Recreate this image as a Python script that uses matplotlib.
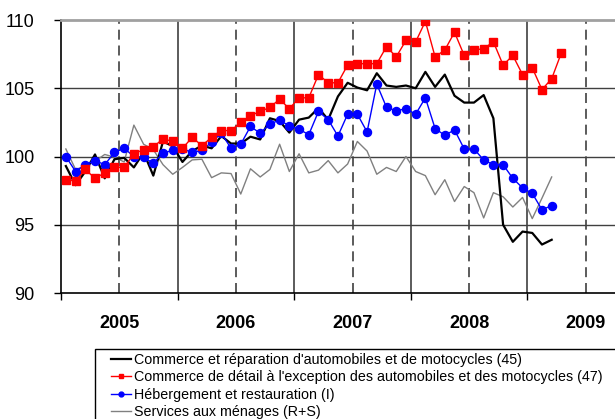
import numpy as np
import matplotlib
matplotlib.use("Agg")
from matplotlib import pyplot as plt
from matplotlib.lines import Line2D
from matplotlib.patches import Rectangle

plt.rcParams['font.family'] = ['Liberation Sans', 'DejaVu Sans']

# monthly indices, January 2005 onwards
years = ['2005', '2006', '2007', '2008', '2009']

auto = [99.3, 97.9, 98.9, 100.15, 98.4, 99.8, 99.9, 99.2, 100.3, 98.6, 101.1, 100.75,
        99.6, 100.4, 100.8, 100.6, 101.5, 100.95, 100.95, 101.45, 101.25, 102.8, 102.6, 101.75,
        102.7, 102.85, 103.55, 102.7, 104.4, 105.4, 105.05, 104.85, 106.1, 105.2, 105.1, 105.2,
        105.0, 106.2, 105.1, 106.0, 104.45, 103.95, 103.95, 104.5, 102.8, 95.0, 93.75, 94.5,
        94.4, 93.55, 93.9]
detail = [98.3, 98.2, 99.05, 98.4, 98.8, 99.2, 99.2, 100.2, 100.5, 100.7, 101.3, 101.1,
          100.6, 101.4, 100.8, 101.4, 101.9, 101.9, 102.5, 103.0, 103.3, 103.6, 104.2, 103.5,
          104.3, 104.3, 106.0, 105.4, 105.4, 106.7, 106.8, 106.8, 106.8, 108.05, 107.3, 108.5,
          108.4, 109.9, 107.3, 107.8, 109.1, 107.4, 107.8, 107.9, 108.4, 106.7, 107.4, 106.0,
          106.5, 104.9, 105.7, 107.6]
hotel = [100.0, 98.9, 99.4, 99.7, 99.4, 100.3, 100.6, 100.0, 99.95, 99.5, 100.25, 100.45,
         100.55, 100.3, 100.45, 101.05, 101.7, 100.6, 100.9, 102.2, 101.7, 102.4, 102.65, 102.25,
         102.0, 101.6, 103.3, 102.7, 101.5, 103.1, 103.1, 101.8, 105.3, 103.6, 103.35, 103.5,
         103.1, 104.3, 102.05, 101.55, 101.95, 100.55, 100.55, 99.75, 99.4, 99.4, 98.4, 97.7,
         97.3, 96.1, 96.4]
menages = [100.55, 99.05, 99.3, 99.65, 100.15, 99.95, 99.6, 102.3, 100.9, 100.5, 99.4, 98.7,
           99.2, 99.75, 99.8, 98.45, 98.8, 98.75, 97.25, 99.1, 98.5, 99.05, 100.9, 98.9,
           100.2, 98.8, 99.0, 99.7, 98.8, 99.45, 101.1, 100.4, 98.7, 99.2, 98.9, 100.0,
           98.9, 98.6, 97.2, 98.3, 96.7, 97.8, 97.35, 95.5, 97.35, 97.05, 96.3, 97.0,
           95.45, 96.95, 98.5]

labels = ["Commerce et réparation d'automobiles et de motocycles (45)",
          "Commerce de détail à l'exception des automobiles et des motocycles (47)",
          "Hébergement et restauration (I)",
          "Services aux ménages (R+S)"]

W, H = 615, 419
fig = plt.figure(figsize=(W / 100, H / 100), dpi=100)
# axes runs past the right edge of the picture, as in the original
ax = fig.add_axes([61 / W, 1 - 293 / H, 583 / W, 273 / H])

def mx(vals):
    return np.arange(len(vals)) + 0.5

ax.plot(mx(auto), auto, color='black', lw=1.6, zorder=4)
ax.plot(mx(detail), detail, color='#ff0000', lw=1.0, marker='s', ms=5.2, zorder=6)
ax.plot(mx(hotel), hotel, color='#0000ff', lw=1.0, marker='o', ms=5.8, zorder=5)
ax.plot(mx(menages), menages, color='#808080', lw=1.0, zorder=3)

ax.set_xlim(0, 60)
ax.set_ylim(90, 110)

for y in [95, 100, 105]:
    ax.axhline(y, color='#404040', lw=1.0, zorder=1)
for i in range(1, 5):
    ax.axvline(12 * i, color='#404040', lw=1.2, zorder=1)
for i in range(5):
    ax.axvline(12 * i + 6, color='#404040', lw=1.2, ls=(0, (6, 3.5)), zorder=1)

ax.set_yticks([90, 95, 100, 105, 110])
ax.tick_params(axis='y', length=5, width=1, labelsize=13, pad=14)
ax.set_xticks([0, 12, 24, 36, 48])
ax.set_xticklabels([])
ax.tick_params(axis='x', which='major', length=5, width=1, direction='out')
ax.set_xticks([6, 18, 30, 42, 54], minor=True)
ax.set_xticklabels(years, minor=True, fontsize=13, fontweight='bold')
ax.tick_params(axis='x', which='minor', length=0, pad=16)

ax.spines['top'].set_color('#a0a0a0')
ax.spines['top'].set_linewidth(2)
ax.spines['right'].set_visible(False)
ax.spines['left'].set_linewidth(1.2)
ax.spines['bottom'].set_linewidth(1.2)

# legend frame spills past the figure edges
fig.patches.append(Rectangle((95 / W, -0.1), 0.9, 1 - 349 / H + 0.1, transform=fig.transFigure,
                             fill=False, edgecolor='black', lw=1.0))
handles = [Line2D([], [], color='black', lw=1.6),
           Line2D([], [], color='#ff0000', lw=1.0, marker='s', ms=3),
           Line2D([], [], color='#0000ff', lw=1.0, marker='o', ms=3.5),
           Line2D([], [], color='#808080', lw=1.0)]
fig.legend(handles, labels, loc='upper left', bbox_to_anchor=(111 / W, 1 - 353 / H),
           frameon=False, fontsize=10.3, borderpad=0, borderaxespad=0,
           handlelength=1.4, handletextpad=0.2, labelspacing=0.24)

plt.savefig('out.png', dpi=100)
